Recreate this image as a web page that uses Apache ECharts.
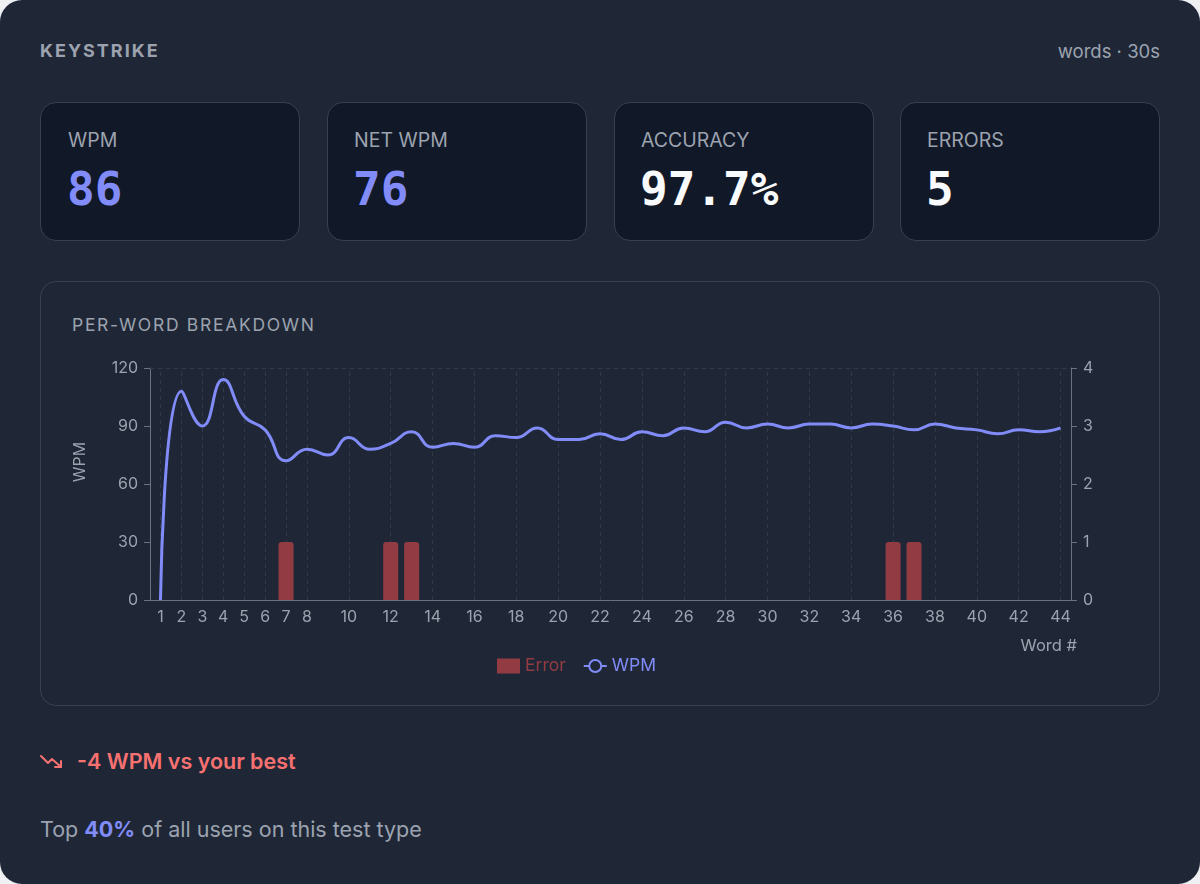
<!DOCTYPE html>
<html>
<head>
<meta charset="utf-8">
<title>Keystrike</title>
<script src="https://cdn.jsdelivr.net/npm/echarts@6/dist/echarts.min.js"></script>
<style>
  html, body { margin: 0; padding: 0; background: #eef0f3; }
  body { font-family: Inter, "Noto Sans", sans-serif; }
  .page {
    position: relative;
    width: 1200px; height: 884px;
    box-sizing: border-box;
    background: #1f2737;
    border-radius: 22px;
    overflow: hidden;
  }
  .brand {
    position: absolute; left: 40px; top: 40px;
    font-size: 18px; font-weight: 700; letter-spacing: 2px;
    color: #9ca3af; line-height: 22px;
  }
  .mode {
    position: absolute; right: 40px; top: 40px;
    font-size: 18.5px; color: #9ca3af; line-height: 22px;
  }
  .stat {
    position: absolute; top: 102px;
    width: 260px; height: 139px;
    box-sizing: border-box;
    background: #111827;
    border: 1px solid #364152;
    border-radius: 16px;
  }
  .stat .lbl {
    position: absolute; left: 26px; top: 26px;
    font-size: 19.5px; line-height: 22px; color: #9ca3af;
  }
  .stat .val {
    position: absolute; left: 25px; top: 62px;
    font-family: "DejaVu Sans Mono", monospace;
    font-size: 46px; line-height: 48px; font-weight: 700;
    color: #f9fafb;
  }
  .stat .val.accent { color: #818cf8; }
  .panel {
    position: absolute; left: 40px; top: 281px;
    width: 1120px; height: 425px;
    box-sizing: border-box;
    border: 1px solid #364152;
    border-radius: 16px;
  }
  .panel .title {
    position: absolute; left: 31px; top: 32px;
    font-size: 17.5px; font-weight: 400; letter-spacing: 1.7px;
    color: #9ca3af; line-height: 22px;
  }
  #chart { position: absolute; left: 0; top: 0; width: 1118px; height: 423px; }
  .delta {
    position: absolute; left: 40px; top: 747px;
    font-size: 21.5px; font-weight: 600; color: #f87171; line-height: 28px;
  }
  .delta svg { position: absolute; left: 0; top: 6px; }
  .delta span { margin-left: 37px; }
  .rank {
    position: absolute; left: 40px; top: 815px;
    font-size: 21.5px; color: #9ca3af; line-height: 28px;
  }
  .rank b { color: #818cf8; font-weight: 700; }
</style>
</head>
<body>
<div class="page">
  <div class="brand">KEYSTRIKE</div>
  <div class="mode">words · 30s</div>

  <div class="stat" style="left:40px"><div class="lbl" style="left:27px">WPM</div><div class="val accent" style="left:26px">86</div></div>
  <div class="stat" style="left:327px"><div class="lbl">NET WPM</div><div class="val accent">76</div></div>
  <div class="stat" style="left:614px"><div class="lbl">ACCURACY</div><div class="val">97.7%</div></div>
  <div class="stat" style="left:900px"><div class="lbl">ERRORS</div><div class="val">5</div></div>

  <div class="panel">
    <div class="title">PER-WORD BREAKDOWN</div>
    <div id="chart"></div>
  </div>

  <div class="delta">
    <svg width="24" height="16" viewBox="0 0 24 16" fill="none" stroke="#f87171" stroke-width="2" stroke-linecap="round" stroke-linejoin="round">
      <polyline points="1,3 8,10 12,6 21,14"></polyline>
      <polyline points="15,14 21,14 21,8"></polyline>
    </svg>
    <span>-4 WPM vs your best</span>
  </div>
  <div class="rank">Top <b>40%</b> of all users on this test type</div>
</div>

<script>
// word index on the x axis
const words = ['1', '2', '3', '4', '5', '6', '7', '8', '9', '10', '11', '12', '13', '14', '15',
    '16', '17', '18', '19', '20', '21', '22', '23', '24', '25', '26', '27', '28', '29', '30',
    '31', '32', '33', '34', '35', '36', '37', '38', '39', '40', '41', '42', '43', '44'];
// which word numbers get a label, tick and grid line
const shownLabels = ['1', '2', '3', '4', '5', '6', '7', '8', '10', '12', '14', '16', '18', '20',
    '22', '24', '26', '28', '30', '32', '34', '36', '38', '40', '42', '44'];
// speed per word
const wpm = [0, 108, 90, 114, 95, 88, 72, 78, 75, 84, 78, 81, 87, 79, 81,
    79, 85, 84, 89, 83, 83, 86, 83, 87, 85, 89, 87, 92, 89, 91,
    89, 91, 91, 89, 91, 90, 88, 91, 89, 88, 86, 88, 87, 89];
// errors per word
const errors = [0, 0, 0, 0, 0, 0, 1, 0, 0, 0, 0, 1, 1, 0, 0,
    0, 0, 0, 0, 0, 0, 0, 0, 0, 0, 0, 0, 0, 0, 0,
    0, 0, 0, 0, 0, 1, 1, 0, 0, 0, 0, 0, 0, 0];
const wpmAxis = { min: 0, max: 120, interval: 30 };
const errAxis = { min: 0, max: 4, interval: 1 };

const axisGrey = '#6b7280';
const labelGrey = '#9ca3af';
const gridDash = '#313a4a';
const wpmColor = '#818cf8';
const errColor = '#933b43';
const panelBg = '#1f2737';

let myChart = echarts.init(document.getElementById('chart'));
myChart.setOption({
    textStyle: { fontFamily: 'Inter, "Noto Sans", sans-serif' },
    animation: false,
    grid: { left: 109, top: 86, width: 921, height: 232 },
    legend: {
        left: 451,
        top: 370,
        itemWidth: 23,
        itemHeight: 15,
        itemGap: 17,
        textStyle: { fontSize: 17.5 },
        data: [
            { name: 'Error', icon: 'rect', textStyle: { color: errColor } },
            { name: 'WPM', textStyle: { color: wpmColor } }
        ]
    },
    xAxis: [
        {
            type: 'category',
            data: words,
            boundaryGap: true,
            name: 'Word #',
            nameLocation: 'end',
            nameGap: 6,
            nameTextStyle: {
                color: labelGrey, fontSize: 16.5,
                align: 'right', verticalAlign: 'top',
                padding: [38, 0, 0, 0]
            },
            axisLine: { lineStyle: { color: axisGrey } },
            axisTick: {
                alignWithLabel: true, length: 5,
                lineStyle: { color: axisGrey }
            },
            axisLabel: {
                color: labelGrey, fontSize: 16, margin: 9,
                interval: (i, v) => shownLabels.indexOf(v) !== -1
            },
            splitLine: { show: false }
        },
        {
            // dashed border along the top of the plot
            type: 'category',
            data: words,
            position: 'top',
            axisLine: { show: true, onZero: false, lineStyle: { color: gridDash, type: [4, 4] } },
            axisTick: { show: false },
            axisLabel: { show: false },
            splitLine: { show: false }
        }
    ],
    yAxis: [
        {
            type: 'value',
            min: wpmAxis.min, max: wpmAxis.max, interval: wpmAxis.interval,
            name: 'WPM',
            nameLocation: 'middle',
            nameGap: 62,
            nameTextStyle: { color: labelGrey, fontSize: 16, padding: [0, 0, 0, 44] },
            axisLine: { show: true, lineStyle: { color: axisGrey } },
            axisTick: { show: true, length: 6, lineStyle: { color: axisGrey } },
            axisLabel: { color: labelGrey, fontSize: 16, margin: 12 },
            splitLine: { show: false }
        },
        {
            type: 'value',
            position: 'right',
            min: errAxis.min, max: errAxis.max, interval: errAxis.interval,
            axisLine: { show: true, lineStyle: { color: axisGrey } },
            axisTick: { show: true, length: 6, lineStyle: { color: axisGrey } },
            axisLabel: { color: labelGrey, fontSize: 16, margin: 12 },
            splitLine: { show: false }
        }
    ],
    series: [
        {
            name: 'Error',
            type: 'bar',
            yAxisIndex: 1,
            data: errors,
            barWidth: 15,
            z: 2,
            itemStyle: { color: errColor, borderRadius: [3, 3, 0, 0] },
            // vertical dashed guides at the labelled words
            markLine: {
                silent: true,
                symbol: 'none',
                z: 1,
                label: { show: false },
                lineStyle: { color: gridDash, type: [4, 4], width: 1 },
                data: shownLabels.map(w => ({ xAxis: w }))
            }
        },
        {
            name: 'WPM',
            type: 'line',
            yAxisIndex: 0,
            data: wpm,
            smooth: 0.5,
            showSymbol: false,
            symbol: 'circle',
            symbolSize: 7,
            z: 3,
            itemStyle: { color: panelBg, borderColor: wpmColor, borderWidth: 2 },
            lineStyle: { color: wpmColor, width: 3 }
        }
    ]
});
</script>
</body>
</html>
